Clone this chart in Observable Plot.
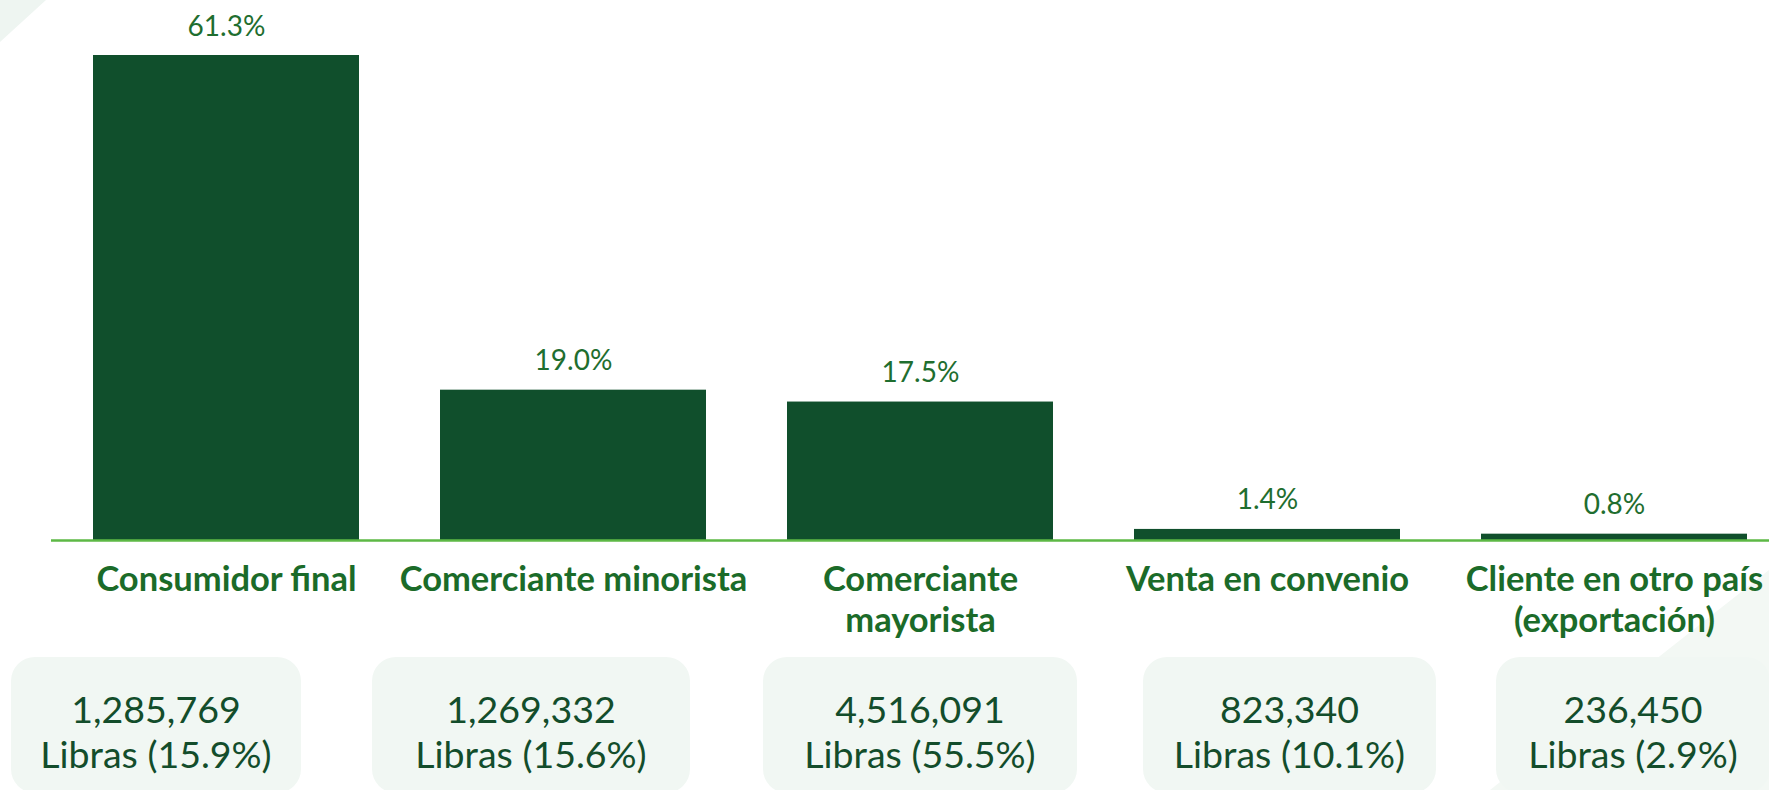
<!DOCTYPE html>
<html>
<head>
<meta charset="utf-8">
<script src="https://cdn.jsdelivr.net/npm/d3@7"></script>
<script src="https://cdn.jsdelivr.net/npm/@observablehq/plot@0.6"></script>
<style>
  html, body { margin: 0; padding: 0; background: #ffffff; }
  #wrap { position: relative; width: 1769px; height: 790px; overflow: hidden; font-family: Lato, "Open Sans", sans-serif; }
  .deco { position: absolute; background: #eef5f1; }
  #decoTL { left: 0; top: 0; width: 46px; height: 42px; clip-path: polygon(0 0, 100% 0, 0 100%); }
  #decoBR { left: 1490px; top: 570px; width: 279px; height: 220px; clip-path: polygon(100% 0, 100% 100%, 0 100%); background: #f3f8f4; }
  #chart { position: absolute; left: 0; top: 0; }
  .box { position: absolute; top: 657px; height: 136px; border-radius: 24px; background: #f1f7f3;
         color: #134d2b; font-size: 37.5px; line-height: 45px; text-align: center; box-sizing: border-box; padding-top: 29px; }
  .box:nth-child(1) { left: 11px; width: 290px; }
  .box:nth-child(2) { left: 372px; width: 318px; }
  .box:nth-child(3) { left: 763px; width: 314px; }
  .box:nth-child(4) { left: 1143px; width: 293px; }
  .box:nth-child(5) { left: 1496px; width: 274px; }
</style>
</head>
<body>
<div id="wrap">
  <div class="deco" id="decoTL"></div>
  <div class="deco" id="decoBR"></div>
  <div id="chart"></div>
  <div id="boxes"></div>
</div>
<script>
const categories = [
  "Consumidor final",
  "Comerciante minorista",
  "Comerciante\nmayorista",
  "Venta en convenio",
  "Cliente en otro país\n(exportación)"
];
const shares = [61.3, 19.0, 17.5, 1.4, 0.8];
const shareLabels = ["61.3%", "19.0%", "17.5%", "1.4%", "0.8%"];
const pounds = ["1,285,769", "1,269,332", "4,516,091", "823,340", "236,450"];
const poundShares = ["15.9%", "15.6%", "55.5%", "10.1%", "2.9%"];

const data = categories.map((c, i) => ({category: c, share: shares[i], label: shareLabels[i]}));

const chart = Plot.plot({
  width: 1769,
  height: 650,
  marginTop: 55,
  marginBottom: 110,
  marginLeft: 51,
  marginRight: 0,
  style: { fontFamily: "Lato, 'Open Sans', sans-serif", background: "transparent", overflow: "visible" },
  x: { domain: categories, paddingInner: 0.234, paddingOuter: 0.089, align: 0.66, label: null },
  y: { domain: [0, d3.max(shares)], axis: null, label: null },
  marks: [
    Plot.barY(data, { x: "category", y: "share", fill: "#104f2c" }),
    Plot.ruleY([0], { stroke: "#5db845", strokeWidth: 2.5 }),
    Plot.text(data, { x: "category", y: "share", text: "label", lineAnchor: "bottom", dy: -20,
                      fontSize: 28, fill: "#1f6e2f" }),
    Plot.axisX({ tickSize: 0, tickPadding: 22, fontSize: 34.5, fontWeight: 700, fill: "#1b6b29",
                 lineHeight: 1.18, label: null, textOverflow: null })
  ]
});
document.getElementById("chart").appendChild(chart);

const boxes = document.getElementById("boxes");
pounds.forEach((p, i) => {
  const div = document.createElement("div");
  div.className = "box";
  div.innerHTML = `${p}<br>Libras (${poundShares[i]})`;
  boxes.appendChild(div);
});
</script>
</body>
</html>
